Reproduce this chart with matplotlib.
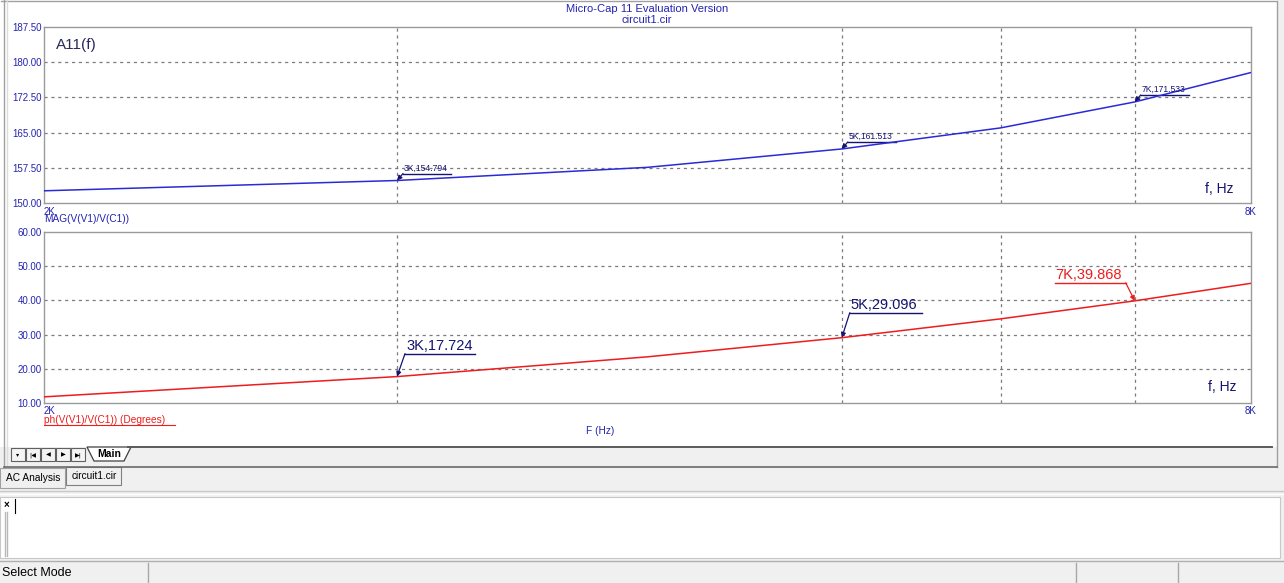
import numpy as np
import matplotlib
matplotlib.use("Agg")
import matplotlib.pyplot as plt
from matplotlib.lines import Line2D
from matplotlib.patches import Rectangle, Polygon
from matplotlib.transforms import Affine2D, ScaledTranslation

plt.rcParams['font.family'] = ['Liberation Sans', 'DejaVu Sans']

# data
freq = [2000, 3000, 4000, 5000, 6000, 7000, 8000]
mag = [152.6, 154.794, 157.6, 161.513, 166.0, 171.533, 177.8]
phase = [11.8, 17.724, 23.5, 29.096, 34.6, 39.868, 45.0]

mag_ticks = [150.0, 157.5, 165.0, 172.5, 180.0, 187.5]
phase_ticks = [10.0, 20.0, 30.0, 40.0, 50.0, 60.0]
grid_freqs = [3000, 5000, 6000, 7000]
marked = [3000, 5000, 7000]

W, H = 1284, 583
BLUE_TXT = "#2424b0"
NAVY = "#141470"
CURVE_BLUE = "#2a2ad8"
RED = "#ee1c1c"
GRID = "#7c7c7c"


def px_axes(fig, left, top, right, bottom):
    return fig.add_axes([left / W, 1 - bottom / H, (right - left) / W, (bottom - top) / H])


def setup_plot(ax, y, ticks, color):
    ax.plot(freq, y, color=color, lw=1.1, zorder=3)
    ax.set_xscale("log")
    ax.set_xlim(freq[0], freq[-1])
    ax.set_ylim(ticks[0], ticks[-1])
    ax.set_yticks(ticks)
    ax.set_yticklabels(["%.2f" % t for t in ticks])
    ax.set_xticks([])
    ax.set_xticks([], minor=True)
    ax.tick_params(axis="y", length=0, pad=1.5, labelsize=7, labelcolor=BLUE_TXT)
    for t in ticks[1:-1]:
        ax.axhline(t, color=GRID, lw=0.9, ls=(0, (2.5, 3)), zorder=1)
    for f in grid_freqs:
        ax.axvline(f, color=GRID, lw=0.9, ls=(0, (2.5, 3)), zorder=1)
    for s in ax.spines.values():
        s.set_color("#9a9a9a")
        s.set_linewidth(1.0)
    ax.text(0, -0.02, "2K", transform=ax.transAxes, ha="left", va="top",
            fontsize=7, color=BLUE_TXT)
    ax.text(1, -0.02, "8K", transform=ax.transAxes, ha="center", va="top",
            fontsize=7, color=BLUE_TXT)


def point_label(ax, x, y, text, color, x0, x1, dy, fs, arrow_end):
    # offsets in pixels from the marked point
    T = Affine2D() + ScaledTranslation(x, y, ax.transData)
    ax.add_artist(Line2D([x0, x1], [dy, dy], color=color, lw=1.0, transform=T))
    ax.text(x0 + 1, dy + 1, text, transform=T, ha="left", va="bottom",
            fontsize=fs, color=color, clip_on=False)
    sx = x0 if arrow_end == "left" else x1
    ax.annotate("", xy=(x, y), xycoords="data", xytext=(sx, dy),
                textcoords="offset pixels",
                arrowprops=dict(arrowstyle="-|>", color=color, lw=0.9,
                                shrinkA=0, shrinkB=0, mutation_scale=7))


fig = plt.figure(figsize=(W / 100, H / 100), dpi=100)
fig.patch.set_facecolor("#f0f0f0")

# window chrome drawn in pixel coordinates
bg = fig.add_axes([0, 0, 1, 1])
bg.set_xlim(0, W)
bg.set_ylim(H, 0)
bg.axis("off")
bg.add_patch(Rectangle((0, 0), 1277, 447, facecolor="white", edgecolor="none"))
bg.add_line(Line2D([1, 1277, 1277], [0.5, 0.5, 467], color="#a0a0a0", lw=1))
bg.add_line(Line2D([4, 4], [0, 467], color="#a0a0a0", lw=1))
bg.add_line(Line2D([7, 7], [0, 467], color="#dcdcdc", lw=1))
bg.add_line(Line2D([4, 1277], [467, 467], color="#6a6a6a", lw=1.2))
bg.add_line(Line2D([128, 1272], [447, 447], color="#5a5a5a", lw=1.4))
# tab bar buttons
for i, sym in enumerate(["\u25be", "|\u25c0", "\u25c0", "\u25b6", "\u25b6|"]):
    bx = 11 + i * 15
    bg.add_patch(Rectangle((bx, 448), 14, 13, facecolor="#f4f4f4", edgecolor="#606060", lw=0.8))
    bg.text(bx + 7, 455, sym, ha="center", va="center", fontsize=4.5, color="black",
            family="DejaVu Sans")
bg.add_patch(Polygon([(87, 447), (94, 461), (124, 461), (131, 447)], closed=True,
                     facecolor="white", edgecolor="#404040", lw=0.9))
bg.text(109, 454, "Main", ha="center", va="center", fontsize=7.5, fontweight="bold")
# analysis tabs
bg.add_patch(Rectangle((0, 468), 65, 20, facecolor="#f0f0f0", edgecolor="#a0a0a0", lw=0.8))
bg.add_patch(Rectangle((66, 467), 55, 18, facecolor="#f0f0f0", edgecolor="#808080", lw=0.8))
bg.text(33, 478, "AC Analysis", ha="center", va="center", fontsize=7.3)
bg.text(94, 476, "circuit1.cir", ha="center", va="center", fontsize=7.3)
bg.add_line(Line2D([0, W], [491, 491], color="#c8c8c8", lw=1))
bg.add_line(Line2D([0, W], [494, 494], color="#ffffff", lw=1))
# text area
bg.add_patch(Rectangle((0, 497), 1280, 61, facecolor="white", edgecolor="#c8c8c8", lw=0.8))
bg.text(6, 505, "\u00d7", ha="center", va="center", fontsize=7, fontweight="bold")
bg.add_line(Line2D([15, 15], [499, 513], color="black", lw=0.8))
bg.add_line(Line2D([5, 5], [512, 556], color="#b8b8b8", lw=1))
bg.add_line(Line2D([7, 7], [512, 556], color="#b8b8b8", lw=1))
# status bar
bg.add_line(Line2D([0, W], [561, 561], color="#b0b0b0", lw=1))
for xs in [148, 1076, 1178]:
    bg.add_line(Line2D([xs, xs], [563, 583], color="#a8a8a8", lw=1))
bg.text(2, 573, "Select Mode", ha="left", va="center", fontsize=9)

# titles
bg.text(647, 9, "Micro-Cap 11 Evaluation Version", ha="center", va="center",
        fontsize=8, color=BLUE_TXT)
bg.text(647, 20, "circuit1.cir", ha="center", va="center", fontsize=8, color=BLUE_TXT)

# top plot: magnitude
ax1 = px_axes(fig, 44, 27, 1251, 203)
setup_plot(ax1, mag, mag_ticks, CURVE_BLUE)
ax1.text(0.010, 0.90, "A11(f)", transform=ax1.transAxes, fontsize=11, color="#2a2a5a",
         ha="left", va="center")
ax1.text(0.962, 0.04, "f, Hz", transform=ax1.transAxes, fontsize=10, color=NAVY,
         ha="left", va="bottom")
for f in marked:
    v = mag[freq.index(f)]
    point_label(ax1, f, v, "%dK,%.3f" % (f // 1000, v), NAVY, 6, 54, 7, 6.2, "left")
bg.text(44, 219, "MAG(V(V1)/V(C1))", ha="left", va="center", fontsize=7.3, color=BLUE_TXT)

# bottom plot: phase
ax2 = px_axes(fig, 44, 232, 1251, 403)
setup_plot(ax2, phase, phase_ticks, RED)
ax2.text(0.964, 0.05, "f, Hz", transform=ax2.transAxes, fontsize=10, color=NAVY,
         ha="left", va="bottom")
p3 = phase[freq.index(3000)]
p5 = phase[freq.index(5000)]
p7 = phase[freq.index(7000)]
point_label(ax2, 3000, p3, "3K,%.3f" % p3, NAVY, 8, 78, 23, 10.5, "left")
point_label(ax2, 5000, p5, "5K,%.3f" % p5, NAVY, 8, 80, 25, 10.5, "left")
point_label(ax2, 7000, p7, "7K,%.3f" % p7, RED, -80, -9, 18, 10.5, "right")
bg.add_patch(Rectangle((1052, 264), 5, 5, facecolor="black", edgecolor="none"))

bg.text(44, 420, "ph(V(V1)/V(C1)) (Degrees)", ha="left", va="center", fontsize=7.3, color=RED)
bg.add_line(Line2D([44, 175], [425, 425], color=RED, lw=0.8))
bg.text(600, 431, "F (Hz)", ha="center", va="center", fontsize=7.3, color=BLUE_TXT)

fig.savefig("out.png", dpi=100, facecolor=fig.get_facecolor())
